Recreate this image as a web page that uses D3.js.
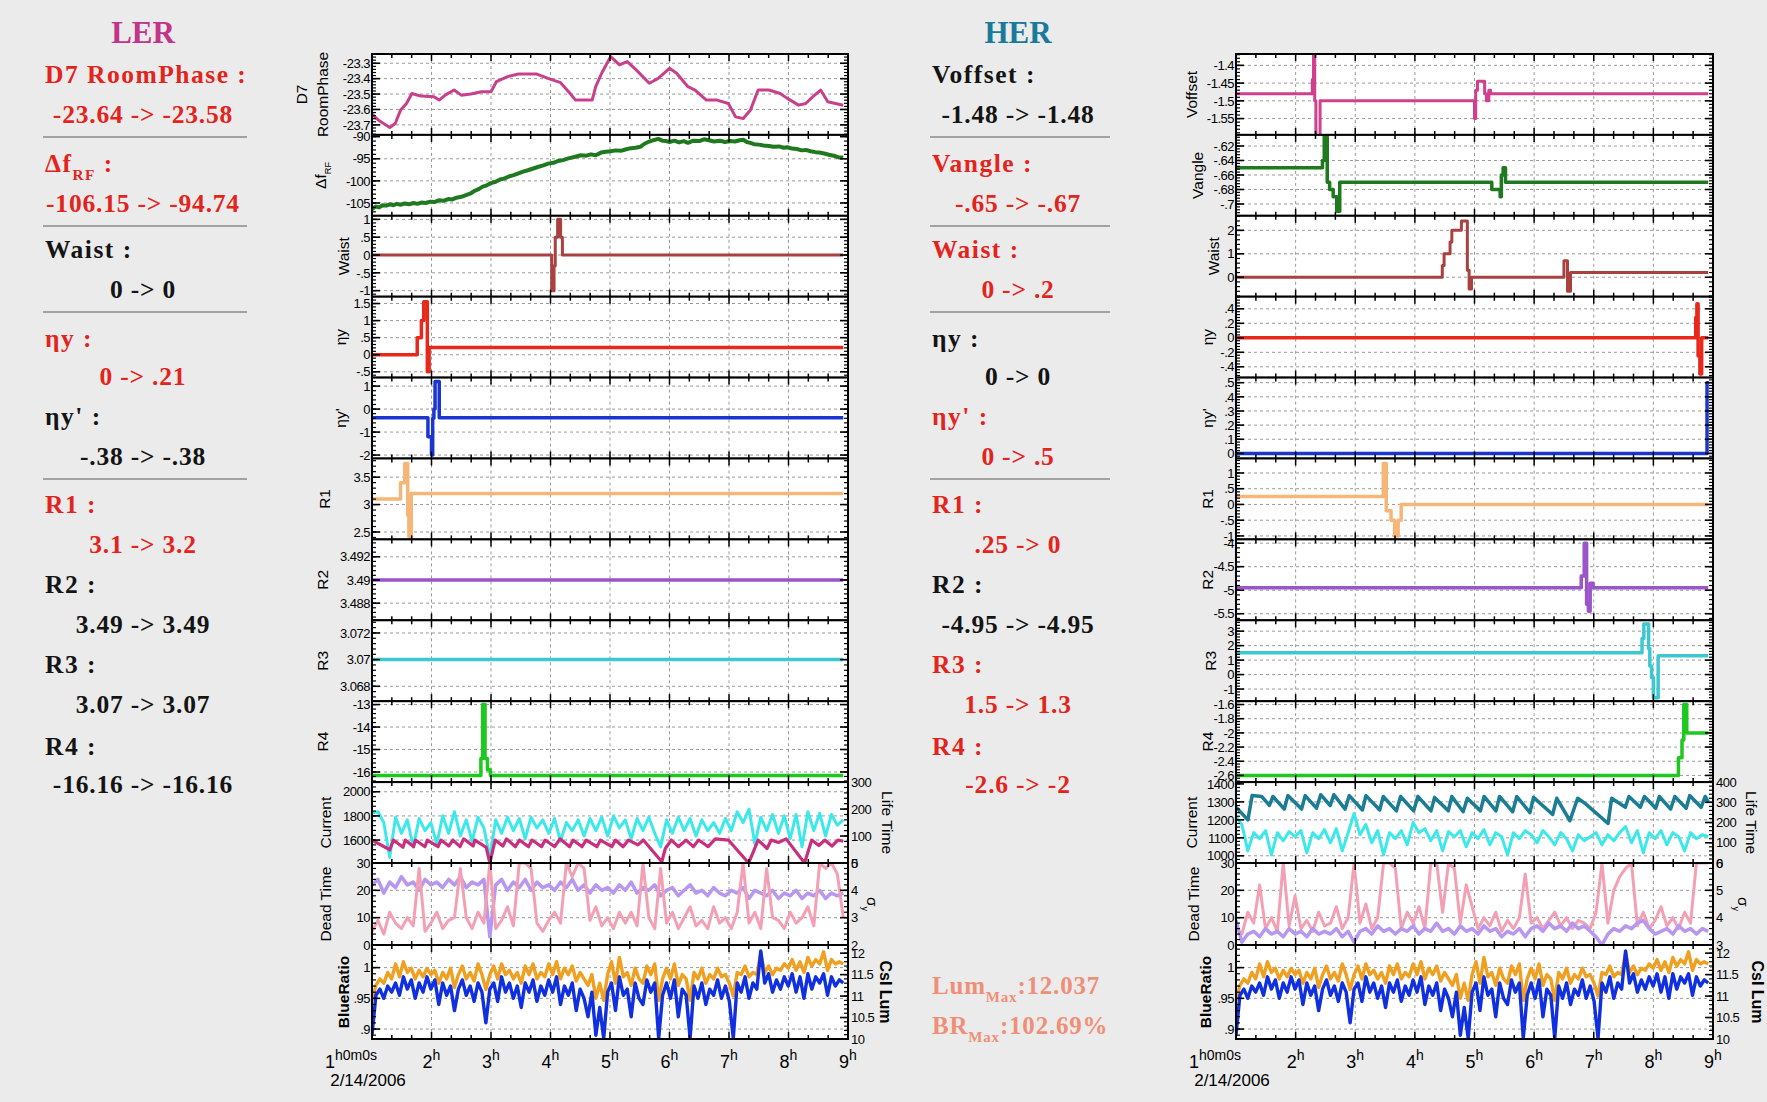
<!DOCTYPE html>
<html><head><meta charset="utf-8">
<script src="https://cdn.jsdelivr.net/npm/d3@7"></script>
<style>body{margin:0;background:#ebebeb;}svg{display:block}</style>
</head><body><svg id="c" width="1767" height="1102"></svg>
<script>
// ---------------- DATA ----------------
const hours = [1,2,3,4,5,6,7,8,9];
const dateLabel = "2/14/2006";
const t6 = d3.range(81).map(i => 1 + i * 0.099);   // 6-minute sample grid
const t4 = d3.range(121).map(i => 1 + i * 0.066);  // 4-minute sample grid

// LER step / slow series  [hour, value]
const lerD7 = [[1.00,-23.630],[1.11,-23.670],[1.30,-23.717],[1.39,-23.691],[1.48,-23.604],[1.58,-23.561],[1.67,-23.496],[1.82,-23.513],[2.04,-23.517],[2.13,-23.539],[2.23,-23.507],[2.38,-23.474],[2.50,-23.507],[2.66,-23.500],[2.84,-23.485],[3.00,-23.485],[3.09,-23.420],[3.28,-23.387],[3.46,-23.370],[3.77,-23.370],[3.96,-23.398],[4.17,-23.426],[4.33,-23.496],[4.42,-23.539],[4.70,-23.539],[4.76,-23.452],[4.86,-23.365],[5.01,-23.257],[5.07,-23.278],[5.16,-23.311],[5.29,-23.289],[5.44,-23.343],[5.66,-23.430],[5.81,-23.398],[6.00,-23.333],[6.12,-23.365],[6.31,-23.452],[6.43,-23.474],[6.62,-23.539],[6.80,-23.539],[6.99,-23.561],[7.11,-23.648],[7.24,-23.659],[7.36,-23.604],[7.49,-23.474],[7.67,-23.474],[7.86,-23.496],[7.98,-23.528],[8.17,-23.572],[8.29,-23.561],[8.41,-23.517],[8.54,-23.474],[8.66,-23.550],[8.92,-23.572]];
const lerDf = [[1.00,-106.4],[1.06,-105.8],[1.12,-106.0],[1.18,-105.5],[1.24,-105.6],[1.30,-105.3],[1.36,-105.5],[1.42,-105.2],[1.48,-105.4],[1.55,-105.1],[1.62,-105.3],[1.70,-105.0],[1.76,-105.2],[1.83,-104.9],[1.90,-105.0],[1.98,-104.7],[2.05,-104.8],[2.12,-104.4],[2.20,-104.5],[2.28,-104.1],[2.35,-104.2],[2.42,-103.8],[2.50,-103.6],[2.58,-103.2],[2.66,-102.8],[2.72,-102.3],[2.80,-101.8],[2.86,-101.3],[2.93,-101.0],[3.00,-100.5],[3.08,-100.2],[3.15,-99.7],[3.22,-99.5],[3.30,-99.0],[3.38,-98.7],[3.46,-98.3],[3.54,-97.9],[3.62,-97.6],[3.71,-97.2],[3.80,-96.8],[3.88,-96.5],[3.96,-96.1],[4.05,-95.9],[4.13,-95.5],[4.21,-95.3],[4.30,-94.9],[4.40,-94.6],[4.51,-94.2],[4.60,-94.3],[4.68,-94.0],[4.76,-94.2],[4.85,-93.6],[4.93,-93.4],[5.01,-93.3],[5.10,-93.1],[5.18,-93.2],[5.26,-92.9],[5.35,-92.6],[5.43,-92.5],[5.51,-92.3],[5.58,-91.6],[5.66,-91.1],[5.73,-90.8],[5.81,-90.5],[5.88,-90.9],[5.95,-91.0],[6.00,-91.2],[6.08,-90.9],[6.16,-91.3],[6.24,-91.0],[6.31,-91.4],[6.40,-90.9],[6.50,-91.0],[6.58,-90.6],[6.66,-90.8],[6.75,-91.1],[6.85,-90.9],[6.93,-91.2],[7.02,-91.0],[7.10,-91.1],[7.18,-90.8],[7.24,-90.7],[7.30,-91.2],[7.36,-91.4],[7.42,-91.7],[7.50,-91.8],[7.58,-92.0],[7.67,-92.1],[7.75,-92.3],[7.84,-92.2],[7.92,-92.5],[7.98,-92.4],[8.06,-92.7],[8.14,-92.8],[8.22,-93.1],[8.29,-93.0],[8.37,-93.3],[8.45,-93.5],[8.52,-93.6],[8.60,-93.8],[8.68,-94.1],[8.76,-94.3],[8.84,-94.7],[8.92,-94.7]];
const lerWaist = [[1,0],[4.02,-1],[4.06,-0.3],[4.08,0.5],[4.12,1.0],[4.17,0.5],[4.20,0],[8.92,0]];
const lerEtaY = [[1,0],[1.76,0.5],[1.83,1.0],[1.87,1.55],[1.93,-0.5],[1.96,0.21],[8.92,0.21]];
const lerEtaYp = [[1,-0.38],[1.94,-1.2],[2.00,-2.0],[2.02,-0.4],[2.04,0.0],[2.06,1.2],[2.13,-0.38],[8.92,-0.38]];
const lerR1 = [[1,3.1],[1.48,3.4],[1.55,3.75],[1.60,2.8],[1.62,2.42],[1.66,3.2],[8.92,3.2]];
const lerR2 = [[1,3.49],[8.92,3.49]];
const lerR3 = [[1,3.07],[8.92,3.07]];
const lerR4 = [[1,-16.16],[2.83,-15.4],[2.86,-13.0],[2.90,-15.4],[2.94,-15.9],[2.99,-16.16],[8.92,-16.16]];
const lerCurrent = [[1.00,1600],[1.30,1520],[1.36,1600],[1.52,1540],[1.56,1600],[1.70,1545],[1.73,1600],[1.89,1545],[1.93,1600],[2.11,1545],[2.16,1600],[2.29,1550],[2.36,1600],[2.48,1545],[2.54,1610],[2.70,1550],[2.73,1600],[2.92,1540],[2.98,1410],[3.07,1600],[3.20,1550],[3.26,1610],[3.41,1545],[3.48,1600],[3.63,1545],[3.69,1600],[3.85,1545],[3.91,1600],[4.07,1545],[4.16,1610],[4.32,1545],[4.38,1600],[4.53,1545],[4.60,1600],[4.78,1545],[4.84,1600],[5.03,1545],[5.09,1600],[5.22,1545],[5.31,1600],[5.47,1560],[5.56,1600],[5.87,1420],[5.93,1530],[6.03,1600],[6.15,1545],[6.28,1600],[6.40,1545],[6.49,1600],[6.65,1545],[6.77,1610],[6.99,1600],[7.33,1410],[7.49,1600],[7.64,1530],[7.71,1600],[7.83,1580],[7.96,1610],[8.27,1410],[8.39,1600],[8.51,1555],[8.61,1600],[8.73,1550],[8.83,1600],[8.92,1590]];
// LER noisy series on the 6-minute grid
const lerLifeTime = [185,190,150,20,170,110,160,60,165,120, 150,70,175,110,190,100,160,80,170,130, 20,160,110,170,120,165,90,170,130,160, 110,165,80,150,120,160,100,165,120,170, 100,175,130,160,90,165,120,170,110,60, 160,110,170,120,165,100,160,120,150,110, 165,120,190,150,200,70,170,120,180,110, 175,90,180,60,190,120,185,100,180,140,160];
const lerDeadTime = [5,9,4,12,8,6,10,7,28,5, 8,12,6,9,10,28,10,6,12,8, 30,6,9,14,7,30,30,28,8,5, 9,12,8,30,25,30,28,9,14,7, 10,6,12,8,12,7,30,10,6,28, 8,12,6,10,14,7,9,6,14,8, 10,6,12,30,8,12,6,28,10,9, 6,12,8,10,14,7,30,28,30,26,10];
const lerSigmaY = [4.2,4.4,3.9,4.3,4.1,4.5,4.2,4.3,4.0,4.4, 4.2,4.3,4.1,4.4,4.2,4.5,4.1,4.3,4.2,4.4, 2.3,4.2,4.4,4.0,4.3,4.1,4.4,4.0,4.3,4.1, 4.2,4.0,4.3,4.1,4.4,4.0,4.2,3.9,4.2,4.0, 4.1,3.9,4.2,4.0,4.3,3.9,4.1,4.0,4.2,3.8, 4.0,4.1,3.8,4.0,4.2,3.9,4.0,3.8,4.1,3.9, 3.8,4.0,3.9,4.1,3.7,4.0,3.9,3.8,4.0,3.7, 3.9,3.8,4.0,3.7,3.9,3.8,4.0,3.7,3.9,3.8,3.9];
// Blue ratio / CsI luminosity on the 4-minute grid
const blueRatio = [.89,.955,.965,.95,.97,.96,.975,.955,.985,.965,.98,.95,.975,.96,.985,
 .965,.98,.94,.975,.955,.97,.93,.965,.98,.955,.97,.945,.975,.96,.91,
 .965,.975,.945,.985,.96,.975,.95,.97,.935,.975,.96,.98,.945,.97,.955,
 .98,.96,.985,.94,.97,.955,.975,.93,.965,.95,.92,.96,.89,.935,.885,
 .96,.975,.93,.985,.955,.965,.92,.975,.95,.94,.98,.96,.975,.885,.955,
 .975,.95,.98,.92,.965,.955,.885,.97,.95,.975,.94,.965,.955,.98,.95,
 .97,.945,.885,.975,.96,.985,.95,.975,.965,1.027,.975,.99,.96,.98,.965,
 .985,.97,.99,.96,.985,.95,.99,.965,.985,.975,.99,.955,.985,.97,.98,.975];
const csiLum = [10.9,11.25,11.4,11.3,11.55,11.4,11.75,11.45,11.8,11.55,11.65,11.4,11.6,11.45,11.65,
 11.5,11.6,11.3,11.55,11.4,11.65,11.2,11.5,11.7,11.4,11.55,11.35,11.75,11.5,11.15,
 11.5,11.7,11.4,11.75,11.5,11.6,11.4,11.55,11.3,11.7,11.5,11.75,11.4,11.55,11.45,
 11.75,11.5,11.8,11.4,11.65,11.5,11.7,11.35,11.55,11.4,11.25,11.5,10.95,11.3,10.9,
 11.5,11.8,11.3,11.9,11.45,11.55,11.25,11.65,11.4,11.3,11.7,11.5,11.75,10.9,11.4,
 11.65,11.4,11.75,11.25,11.5,11.4,10.9,11.55,11.4,11.65,11.3,11.5,11.4,11.65,11.45,
 11.5,11.3,11.0,11.55,11.5,11.7,11.45,11.55,11.5,12.0,11.55,11.7,11.5,11.65,11.6,
 11.75,11.65,11.85,11.6,11.8,11.55,11.9,11.7,11.85,11.75,12.03,11.6,11.85,11.75,11.8,11.75];

// HER series
const herVoffset = [[1,-1.48],[2.28,-1.44],[2.30,-1.37],[2.32,-1.5],[2.34,-1.6],[2.41,-1.5],[5.00,-1.55],[5.02,-1.47],[5.05,-1.445],[5.17,-1.48],[5.20,-1.5],[5.24,-1.47],[5.27,-1.48],[8.92,-1.48]];
const herVangle = [[1,-.65],[2.45,-.64],[2.48,-.605],[2.53,-.67],[2.57,-.68],[2.63,-.69],[2.69,-.71],[2.74,-.67],[5.29,-.68],[5.43,-.69],[5.45,-.66],[5.48,-.65],[5.52,-.67],[8.92,-.67]];
const herWaist = [[1,0],[4.46,0.5],[4.49,1.0],[4.59,1.5],[4.62,2.0],[4.78,2.4],[4.88,0.3],[4.91,-0.5],[4.95,0],[6.50,0.7],[6.56,-0.6],[6.61,0.2],[8.92,0.2]];
const herEtaY = [[1,0],[8.71,0.28],[8.73,0.47],[8.75,-0.25],[8.78,-0.5],[8.81,0],[8.92,0]];
const herEtaYp = [[1,0],[8.90,0.5],[8.93,0.5]];
const herR1 = [[1,.25],[3.47,1.3],[3.52,-0.2],[3.60,-0.5],[3.66,-1.0],[3.72,-0.5],[3.77,0],[8.92,0]];
const herR2 = [[1,-4.95],[6.79,-4.7],[6.84,-4.0],[6.88,-5.3],[6.91,-5.45],[6.94,-4.85],[6.99,-4.95],[8.92,-4.95]];
const herR3 = [[1,1.5],[7.81,2.5],[7.84,3.5],[7.92,1.8],[7.94,0.6],[7.97,-0.2],[8.00,-1.6],[8.08,1.3],[8.92,1.3]];
const herR4 = [[1,-2.6],[8.42,-2.35],[8.48,-2.1],[8.51,-1.6],[8.56,-2.0],[8.92,-2.0]];
const herCurrent = [[1.00,1270],[1.20,1200],[1.27,1335],[1.43,1330],[1.56,1280],[1.62,1330],[1.81,1260],[1.87,1335],[2.10,1260],[2.16,1335],[2.35,1265],[2.42,1340],[2.58,1280],[2.64,1340],[2.83,1260],[2.90,1335],[3.12,1255],[3.18,1335],[3.41,1255],[3.47,1330],[3.69,1250],[3.76,1330],[3.98,1250],[4.05,1330],[4.27,1250],[4.33,1325],[4.56,1250],[4.62,1330],[4.81,1245],[4.88,1320],[5.10,1250],[5.16,1330],[5.36,1250],[5.42,1330],[5.64,1245],[5.71,1330],[5.93,1240],[5.99,1325],[6.31,1230],[6.38,1320],[6.60,1195],[6.73,1320],[6.86,1290],[7.24,1180],[7.30,1320],[7.53,1270],[7.59,1330],[7.78,1270],[7.85,1330],[8.04,1265],[8.10,1330],[8.29,1260],[8.36,1330],[8.55,1265],[8.61,1335],[8.80,1270],[8.87,1330],[8.92,1300]];
const herLifeTime = [230,190,60,150,120,160,40,150,110,155, 130,160,50,150,120,165,100,170,60,150, 245,140,190,100,160,40,150,120,160,90, 200,150,170,110,160,60,155,130,160,80, 150,120,165,90,150,130,40,150,120,160, 140,100,160,130,90,150,120,60,140,110, 130,150,90,140,110,150,180,100,160,50, 150,120,160,90,150,130,60,150,120,140,130];
const herDeadTime = [6,4,12,8,22,6,10,5,30,7, 18,6,9,5,12,7,8,14,6,10, 30,8,15,6,10,30,30,28,6,12, 8,14,6,30,30,12,30,28,8,22, 14,6,10,7,12,5,9,6,10,26, 8,10,6,9,12,7,10,6,9,8, 6,12,30,8,20,25,28,30,7,12, 6,9,14,7,10,6,12,8,30,30,30];
const herSigmaY = [3.9,3.1,3.4,3.5,3.3,3.6,3.4,3.5,3.3,3.6, 3.4,3.5,3.3,3.6,3.4,3.5,3.4,3.6,3.3,3.5, 3.1,3.5,3.6,3.4,3.7,3.5,3.6,3.4,3.6,3.5, 3.7,3.4,3.6,3.5,3.8,3.5,3.6,3.4,3.7,3.5, 3.6,3.4,3.7,3.5,3.6,3.3,3.5,3.4,3.6,3.3, 3.6,3.7,3.5,3.8,3.6,3.7,3.5,3.8,3.6,3.7, 3.5,3.3,3.0,3.4,3.6,3.5,3.7,3.6,3.8,3.9, 3.6,3.4,3.5,3.6,3.4,3.7,3.5,3.6,3.4,3.6,3.5];

// Text column contents: [label, value, colour key]
const lerText = [["D7 RoomPhase :","-23.64 -> -23.58","r"],["Δf_{RF} :","-106.15 -> -94.74","r"],["Waist :","0 -> 0","k"],["ηy :","0 -> .21","r"],["ηy' :","-.38 -> -.38","k"],["R1 :","3.1 -> 3.2","r"],["R2 :","3.49 -> 3.49","k"],["R3 :","3.07 -> 3.07","k"],["R4 :","-16.16 -> -16.16","k"]];
const herText = [["Voffset :","-1.48 -> -1.48","k"],["Vangle :","-.65 -> -.67","r"],["Waist :","0 -> .2","r"],["ηy :","0 -> 0","k"],["ηy' :","0 -> .5","r"],["R1 :",".25 -> 0","r"],["R2 :","-4.95 -> -4.95","k"],["R3 :","1.5 -> 1.3","r"],["R4 :","-2.6 -> -2","r"]];
const herMax = ["Lum_{Max}:12.037","BR_{Max}:102.69%"];

// ---------------- LAYOUT / STYLE ----------------
const SANS = "'Liberation Sans', Arial, Helvetica, sans-serif";
const SERIF = "'Liberation Serif', 'Times New Roman', serif";
const RED = "#e3241c", BLK = "#141414";
const edges = [54,134.9,215.8,296.7,377.6,458.5,539.4,620.3,701.2,782.1,863,945,1039];
const svg = d3.select("#c");
svg.append("rect").attr("width",1767).attr("height",1102).attr("fill","#ebebeb");
const defs = svg.append("defs");

function addParts(sel, str, base, supScale){
  const toks = str.split(/(_\{[^}]*\}|\^\{[^}]*\})/).filter(s => s.length);
  let shift = 0;
  toks.forEach(tk => {
    let txt = tk, dy = 0, size = base;
    if (tk.startsWith("_{")) { txt = tk.slice(2,-1); dy = base*0.32; size = base*0.6; }
    else if (tk.startsWith("^{")) { txt = tk.slice(2,-1); dy = -base*0.42; size = base*(supScale||0.72); }
    sel.append("tspan").text(txt).attr("font-size",size).attr("dy",dy-shift);
    shift = dy;
  });
  return sel;
}
function vtext(x,y,str,size,rot,bold){
  const t = svg.append("text").attr("transform",`translate(${x},${y}) rotate(${rot})`)
    .attr("text-anchor","middle").attr("font-family",SANS).attr("font-size",size)
    .attr("font-weight",bold?"bold":"normal").attr("fill","#000").attr("dy","0.35em");
  addParts(t,str,size);
}
const ser = (d,color,w,opt) => Object.assign({d,color,w:w||3},opt||{});
const grid6 = a => t6.map((t,i)=>[t,a[i]]);
const grid4 = a => t4.map((t,i)=>[t,a[i]]);

const lerPanels = [
 {titles:[["D7",-65],["RoomPhase",-44]], dom:[-23.765,-23.24], ticks:[-23.3,-23.4,-23.5,-23.6,-23.7], labels:["-23.3","-23.4","-23.5","-23.6","-23.7"], series:[ser(lerD7,"#c8408c",3)]},
 {titles:[["Δf_{RF}",-46]], dom:[-107.9,-89.6], ticks:[-90,-95,-100,-105], series:[ser(lerDf,"#1f7a1f",4)]},
 {titles:[["Waist",-23]], dom:[-1.17,1.1], ticks:[1,.5,0,-.5,-1], labels:["1",".5","0","-.5","-1"], series:[ser(lerWaist,"#a8413f",3,{step:true})]},
 {titles:[["ηy",-26]], dom:[-0.67,1.70], ticks:[1.5,1,.5,0,-.5], labels:["1.5","1",".5","0","-.5"], series:[ser(lerEtaY,"#e8281a",3.5,{step:true})]},
 {titles:[["ηy'",-26]], dom:[-2.15,1.37], ticks:[1,0,-1,-2], series:[ser(lerEtaYp,"#1a35d0",3.5,{step:true})]},
 {titles:[["R1",-42]], dom:[2.365,3.84], ticks:[3.5,3,2.5], labels:["3.5","3","2.5"], series:[ser(lerR1,"#f5b677",3.5,{step:true})]},
 {titles:[["R2",-44]], dom:[3.48652,3.4935], ticks:[3.492,3.49,3.488], labels:["3.492","3.49","3.488"], series:[ser(lerR2,"#9a55c8",3.5,{step:true})]},
 {titles:[["R3",-44]], dom:[3.06688,3.07295], ticks:[3.072,3.07,3.068], labels:["3.072","3.07","3.068"], series:[ser(lerR3,"#3cc8d2",3.5,{step:true})]},
 {titles:[["R4",-44]], dom:[-16.45,-12.85], ticks:[-13,-14,-15,-16], series:[ser(lerR4,"#1ec81e",3.5,{step:true})]},
 {titles:[["Current",-41]], dom:[1410,2080], ticks:[2000,1800,1600], rdom:[0,300], rticks:[300,200,100,0], rtitle:["Life Time",34,false],
   series:[ser(grid6(lerLifeTime),"#3ce8ea",3,{right:true}), ser(lerCurrent,"#c8307f",3.2)]},
 {titles:[["Dead Time",-41]], dom:[0,30], ticks:[30,20,10,0], rdom:[2,5], rticks:[5,4,3,2], rtitle:["σ_{y}",19,false],
   series:[ser(grid6(lerSigmaY),"#b797f0",3.5,{right:true}), ser(grid6(lerDeadTime),"#f4a0b4",3)]},
 {titles:[["BlueRatio",-23,true]], dom:[0.8838,1.0368], ticks:[1,.95,.9], labels:["1",".95",".9"], rdom:[10,12.19], rticks:[12,11.5,11,10.5,10], rtitle:["CsI Lum",32,true],
   series:[ser(grid4(csiLum),"#f0a020",3.4,{right:true}), ser(grid4(blueRatio),"#1030e0",3.4)]}
];
const herPanels = [
 {titles:[["Voffset",-39]], dom:[-1.596,-1.368], ticks:[-1.4,-1.45,-1.5,-1.55], series:[ser(herVoffset,"#d0408f",3,{step:true})]},
 {titles:[["Vangle",-33]], dom:[-.7163,-.6047], ticks:[-.62,-.64,-.66,-.68,-.7], labels:["-.62","-.64","-.66","-.68","-.7"], series:[ser(herVangle,"#1f7a1f",3.5,{step:true})]},
 {titles:[["Waist",-17]], dom:[-0.83,2.62], ticks:[2,1,0], series:[ser(herWaist,"#a8413f",3,{step:true})]},
 {titles:[["ηy",-23]], dom:[-.549,.567], ticks:[.4,.2,0,-.2,-.4], labels:[".4",".2","0","-.2","-.4"], series:[ser(herEtaY,"#e8281a",3.5,{step:true})]},
 {titles:[["ηy'",-23]], dom:[-.036,.536], ticks:[.5,.4,.3,.2,.1,0], labels:[".5",".4",".3",".2",".1","0"], series:[ser(herEtaYp,"#1a35d0",3.5,{step:true})]},
 {titles:[["R1",-23]], dom:[-1.11,1.46], ticks:[1,.5,0,-.5,-1], labels:["1",".5","0","-.5","-1"], series:[ser(herR1,"#f5b677",3.5,{step:true})]},
 {titles:[["R2",-23]], dom:[-5.64,-3.92], ticks:[-4,-4.5,-5,-5.5], series:[ser(herR2,"#9a55c8",3.5,{step:true})]},
 {titles:[["R3",-20]], dom:[-1.84,3.75], ticks:[3,2,1,0,-1], series:[ser(herR3,"#3cc8d2",3.5,{step:true})]},
 {titles:[["R4",-23]], dom:[-2.694,-1.553], ticks:[-1.6,-1.8,-2,-2.2,-2.4,-2.6], series:[ser(herR4,"#1ec81e",3.5,{step:true})]},
 {titles:[["Current",-39]], dom:[960,1410], ticks:[1400,1300,1200,1100,1000], rdom:[0,400], rticks:[400,300,200,100,0], rtitle:["Life Time",33,false],
   series:[ser(grid6(herLifeTime),"#3ce8ea",3,{right:true}), ser(herCurrent,"#1a7d94",3.5)]},
 {titles:[["Dead Time",-37]], dom:[0,30], ticks:[30,20,10,0], rdom:[3,6], rticks:[6,5,4,3], rtitle:["σ_{y}",25,false],
   series:[ser(grid6(herDeadTime),"#f4a0b4",3), ser(grid6(herSigmaY),"#b797f0",3.5,{right:true})]},
 {titles:[["BlueRatio",-25,true]], dom:[0.8838,1.0368], ticks:[1,.95,.9], labels:["1",".95",".9"], rdom:[10,12.19], rticks:[12,11.5,11,10.5,10], rtitle:["CsI Lum",39,true],
   series:[ser(grid4(csiLum),"#f0a020",3.4,{right:true}), ser(grid4(blueRatio),"#1030e0",3.4)]}
];

function minors(ticks, dom){
  const st = Math.abs(ticks[0]-ticks[1])/5, lo = Math.min(...dom), hi = Math.max(...dom), b = ticks[0];
  const out = [];
  for (let k = Math.ceil((lo-b)/st-1e-6); k <= Math.floor((hi-b)/st+1e-6); k++) out.push(b+k*st);
  return out;
}

function drawChart(name, x0, x1, panels){
  const xs = d3.scaleLinear().domain([1,9]).range([x0,x1]);
  const xMinor = d3.range(0,25).map(k => 1 + k/3);
  panels.forEach((p,i) => {
    const y0 = edges[i], y1 = edges[i+1];
    const ys = d3.scaleLinear().domain(p.dom).range([y1,y0]);
    const ysr = p.rdom ? d3.scaleLinear().domain(p.rdom).range([y1,y0]) : null;
    const id = `clip-${name}-${i}`;
    defs.append("clipPath").attr("id",id).append("rect").attr("x",x0).attr("y",y0).attr("width",x1-x0).attr("height",y1-y0);
    const g = svg.append("g");
    g.append("rect").attr("x",x0).attr("y",y0).attr("width",x1-x0).attr("height",y1-y0).attr("fill","#fff");
    hours.slice(1,-1).forEach(h => g.append("line").attr("x1",xs(h)).attr("x2",xs(h)).attr("y1",y0).attr("y2",y1)
      .attr("stroke","#9a9a9a").attr("stroke-width",1).attr("stroke-dasharray","3,3"));
    p.ticks.forEach(v => { const y = ys(v); if (y > y0+2 && y < y1-2)
      g.append("line").attr("x1",x0).attr("x2",x1).attr("y1",y).attr("y2",y)
       .attr("stroke","#9a9a9a").attr("stroke-width",1).attr("stroke-dasharray","3,3"); });
    const sg = g.append("g").attr("clip-path",`url(#${id})`);
    p.series.forEach(s => {
      const sc = s.right ? ysr : ys;
      const line = d3.line().x(d => xs(d[0])).y(d => sc(d[1])).curve(s.step ? d3.curveStepAfter : d3.curveLinear);
      sg.append("path").datum(s.d).attr("d",line).attr("fill","none").attr("stroke",s.color)
        .attr("stroke-width",s.w).attr("stroke-linejoin","round");
    });
    xMinor.forEach((h,k) => {
      const L = (k%3===0) ? 7 : 4, x = xs(h);
      g.append("line").attr("x1",x).attr("x2",x).attr("y1",y0).attr("y2",y0+L).attr("stroke","#000").attr("stroke-width",1.5);
      g.append("line").attr("x1",x).attr("x2",x).attr("y1",y1).attr("y2",y1-L).attr("stroke","#000").attr("stroke-width",1.5);
    });
    const yt = (sc, ticks, dom, side) => {
      const xe = side === "l" ? x0 : x1, dir = side === "l" ? 1 : -1;
      minors(ticks, dom).forEach(v => { const y = sc(v); if (y >= y0 && y <= y1)
        g.append("line").attr("x1",xe).attr("x2",xe+dir*4).attr("y1",y).attr("y2",y).attr("stroke","#000").attr("stroke-width",1.2); });
      ticks.forEach(v => { const y = sc(v); if (y >= y0-1 && y <= y1+1)
        g.append("line").attr("x1",xe).attr("x2",xe+dir*8).attr("y1",y).attr("y2",y).attr("stroke","#000").attr("stroke-width",1.6); });
    };
    yt(ys, p.ticks, p.dom, "l");
    if (ysr) yt(ysr, p.rticks, p.rdom, "r"); else yt(ys, p.ticks, p.dom, "r");
    g.append("rect").attr("x",x0).attr("y",y0).attr("width",x1-x0).attr("height",y1-y0)
      .attr("fill","none").attr("stroke","#000").attr("stroke-width",2);
    p.ticks.forEach((v,k) => svg.append("text").attr("x",x0-2).attr("y",ys(v)).attr("dy","0.36em")
      .attr("text-anchor","end").attr("font-family",SANS).attr("font-size",13).attr("letter-spacing",-0.5)
      .text(p.labels ? p.labels[k] : String(v)));
    if (ysr) p.rticks.forEach(v => svg.append("text").attr("x",x1+3).attr("y",ysr(v)).attr("dy","0.36em")
      .attr("text-anchor","start").attr("font-family",SANS).attr("font-size",13).attr("letter-spacing",-0.5)
      .text(String(v)));
    const cy = (y0+y1)/2;
    p.titles.forEach(t => vtext(x0+t[1], cy, t[0], 15.5, -90, t[2]));
    if (p.rtitle) vtext(x1+p.rtitle[1], cy, p.rtitle[0], p.rtitle[2]?16:15.5, 90, p.rtitle[2]);
  });
  const yb = edges[edges.length-1];
  hours.forEach(h => {
    const t = svg.append("text").attr("font-family",SANS).attr("fill","#000").attr("y",yb+29);
    if (h === 1) { t.attr("x",x0-47).attr("text-anchor","start"); addParts(t,"1^{h0m0s}",18,0.78); }
    else { t.attr("x",xs(h)).attr("text-anchor","middle"); addParts(t,`${h}^{h}`,18,0.78); }
  });
  svg.append("text").attr("x",x0-4).attr("y",yb+47).attr("text-anchor","middle").attr("font-family",SANS)
    .attr("font-size",17).text(dateLabel);
}

function drawText(title, titleColor, cx, lx, items, lineX0, lineX1){
  svg.append("text").attr("x",cx).attr("y",43).attr("text-anchor","middle").attr("font-family",SERIF)
    .attr("font-weight","bold").attr("font-size",31).attr("fill",titleColor).text(title);
  const labY = [83,172,258,347,425,513,593,673,755];
  const valY = [123,212,298,385,465,553,633,713,793];
  const sepY = [137,226,312,479];
  items.forEach((it,k) => {
    const col = it[2] === "r" ? RED : BLK;
    const a = svg.append("text").attr("x",lx).attr("y",labY[k]).attr("font-family",SERIF).attr("font-weight","bold")
      .attr("fill",col).attr("letter-spacing",1.5);
    addParts(a, it[0], 25.5);
    svg.append("text").attr("x",cx).attr("y",valY[k]).attr("text-anchor","middle").attr("font-family",SERIF)
      .attr("font-weight","bold").attr("font-size",25.5).attr("fill",col).attr("letter-spacing",0.8).text(it[1]);
  });
  sepY.forEach(y => svg.append("line").attr("x1",lineX0).attr("x2",lineX1).attr("y1",y).attr("y2",y)
    .attr("stroke","#8a8a8a").attr("stroke-width",1.5));
}

drawChart("ler", 372, 848, lerPanels);
drawChart("her", 1236, 1713, herPanels);
drawText("LER","#c2338a",143,45,lerText,43,247);
drawText("HER","#1a7a9a",1018,932,herText,930,1110);
herMax.forEach((s,k) => {
  const t = svg.append("text").attr("x",932).attr("y",994+k*40).attr("font-family",SERIF).attr("font-weight","bold")
    .attr("fill","#f08f78").attr("letter-spacing",0.8);
  addParts(t, s, 25);
});
</script></body></html>
